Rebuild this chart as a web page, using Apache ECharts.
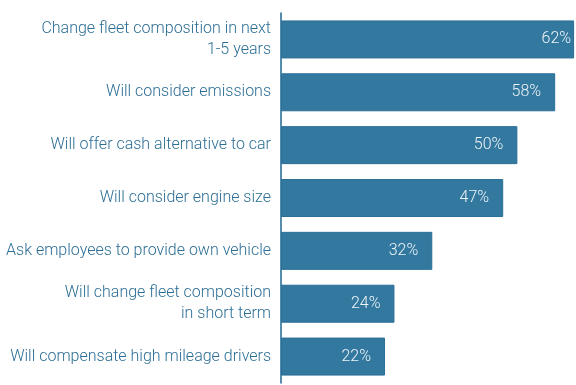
<!DOCTYPE html>
<html>
<head>
<meta charset="utf-8">
<style>
  html, body { margin: 0; padding: 0; background: #ffffff; }
  #chart { width: 576px; height: 385px; }
</style>
<script src="https://cdn.jsdelivr.net/npm/echarts@6/dist/echarts.min.js"></script>
</head>
<body>
<div id="chart"></div>
<script>
// Survey responses on fleet policy, top to bottom
const categories = [
  'Change fleet composition in next\n1-5 years',
  'Will consider emissions',
  'Will offer cash alternative to car',
  'Will consider engine size',
  'Ask employees to provide own vehicle',
  'Will change fleet composition\nin short term',
  'Will compensate high mileage drivers'
];
const values = [62, 58, 50, 47, 32, 24, 22];

const FONT = 'Roboto, sans-serif';
const BAR = '#33789f';
const TEXT = '#2c6e95';

const chart = echarts.init(document.getElementById('chart'), null, { renderer: 'canvas' });

// The longest bar runs to the edge, so its label sits tighter against the end
const seriesData = values.map((v, i) => ({
  value: v,
  label: { distance: i === 0 ? 3 : 14 }
}));

chart.setOption({
  animation: false,
  grid: { left: 281, right: 0, top: 13, height: 370, outerBoundsMode: 'none', containLabel: false },
  xAxis: {
    type: 'value',
    min: 0,
    max: 62.4,
    show: false
  },
  yAxis: {
    type: 'category',
    inverse: true,
    data: categories,
    axisLine: { show: true, lineStyle: { color: '#1f6790', width: 1.5 } },
    axisTick: { show: false },
    axisLabel: {
      color: TEXT,
      fontFamily: FONT,
      fontWeight: 300,
      fontSize: 16,
      lineHeight: 21,
      margin: 10,
      align: 'right'
    }
  },
  series: [{
    type: 'bar',
    data: seriesData,
    barWidth: 38,
    itemStyle: { color: BAR, borderColor: '#2b6f98', borderWidth: 1 },
    label: {
      show: true,
      position: 'insideRight',
      color: '#eef4f8',
      fontFamily: FONT,
      fontWeight: 300,
      fontSize: 16,
      formatter: p => p.value + '%'
    }
  }]
});
</script>
</body>
</html>
